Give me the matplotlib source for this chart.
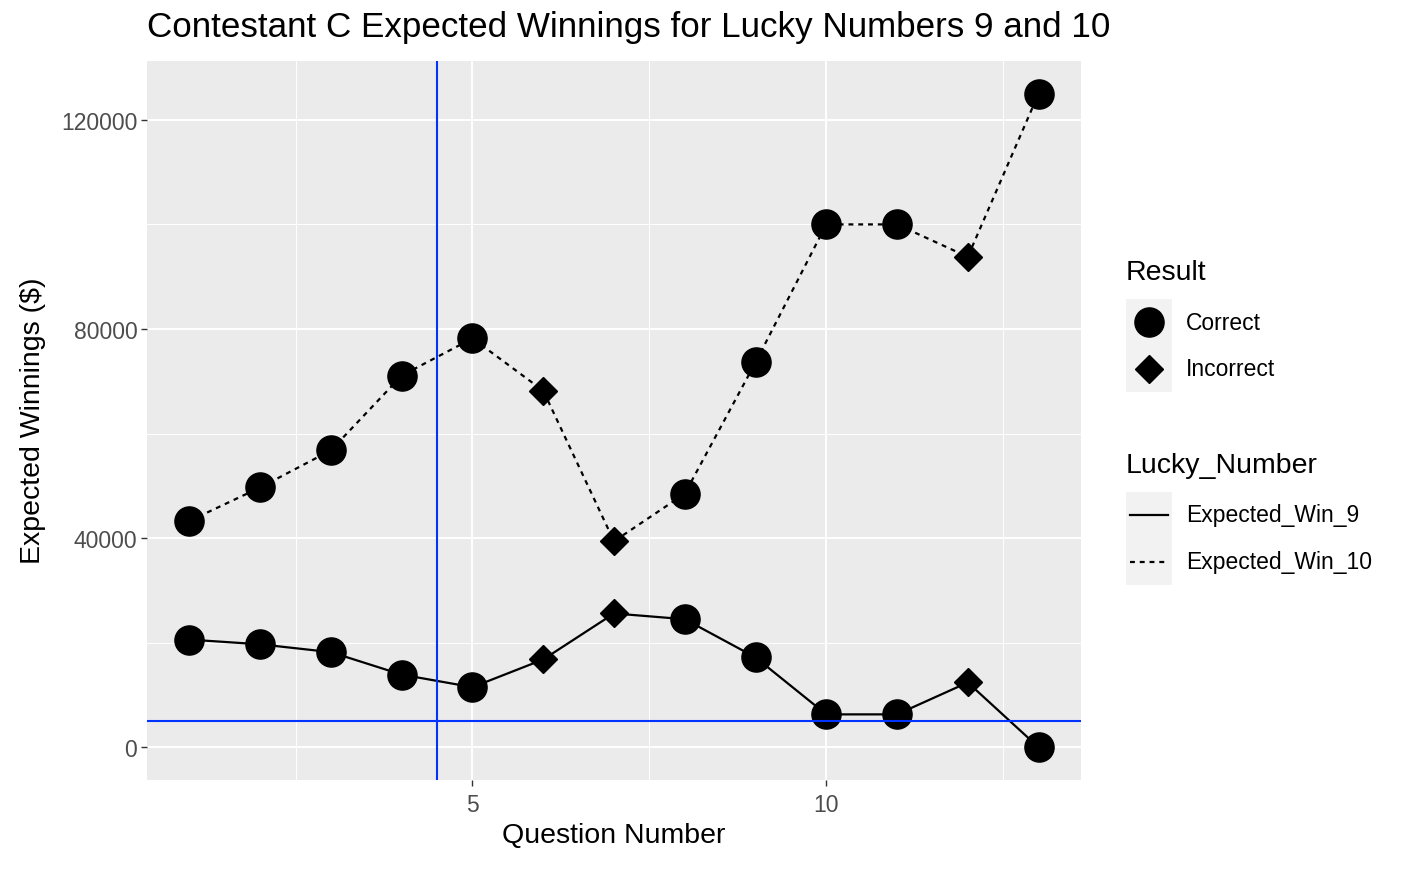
import matplotlib
matplotlib.use("Agg")
import matplotlib.pyplot as plt
from matplotlib.lines import Line2D
from matplotlib.patches import Rectangle

plt.rcParams['font.family'] = ['Liberation Sans', 'DejaVu Sans']

question = [1, 2, 3, 4, 5, 6, 7, 8, 9, 10, 11, 12, 13]
win_9 = [20600, 19700, 18200, 13900, 11500, 16800, 25600, 24500, 17200, 6300, 6300, 12400, 0]
win_10 = [43300, 49700, 56800, 71100, 78200, 68200, 39400, 48500, 73600, 100000, 100000, 93800, 125000]
result = ['Correct', 'Correct', 'Correct', 'Correct', 'Correct', 'Incorrect', 'Incorrect',
          'Correct', 'Correct', 'Correct', 'Correct', 'Incorrect', 'Correct']
result_levels = ['Correct', 'Incorrect']
series_names = ['Expected_Win_9', 'Expected_Win_10']
vline_x = 4.5
hline_y = 5000

W, H = 1422, 878
fig = plt.figure(figsize=(W / 100, H / 100), dpi=100)

def fx(x):
    return x / W

def fy(y):
    return 1 - y / H

ax = fig.add_axes([fx(147), fy(781), fx(1081) - fx(147), fy(62) - fy(781)])
ax.set_facecolor('#EBEBEB')
for s in ax.spines.values():
    s.set_visible(False)

ax.set_xlim(0.4, 13.6)
ax.set_ylim(-6250, 131250)
ax.set_xticks([5, 10])
ax.set_xticks([2.5, 7.5, 12.5], minor=True)
ax.set_yticks([0, 40000, 80000, 120000])
ax.set_yticks([20000, 60000, 100000], minor=True)
ax.grid(which='major', color='white', linewidth=1.4)
ax.grid(which='minor', color='white', linewidth=0.7)
ax.set_axisbelow(True)
ax.tick_params(which='major', length=4, width=1, color='#333333', labelcolor='#4D4D4D',
               labelsize=16.5)
ax.tick_params(axis='x', which='major', pad=5)
ax.tick_params(axis='y', which='major', pad=3)
ax.tick_params(which='minor', length=0)

line_styles = {'Expected_Win_9': '-', 'Expected_Win_10': (0, (2.2, 2.2))}
marker_map = {'Correct': ('o', 21), 'Incorrect': ('D', 14)}

for name, vals in zip(series_names, [win_9, win_10]):
    ax.plot(question, vals, color='black', linewidth=1.6, linestyle=line_styles[name], zorder=3)
    for lvl in result_levels:
        xs = [q for q, r in zip(question, result) if r == lvl]
        ys = [v for v, r in zip(vals, result) if r == lvl]
        m, ms = marker_map[lvl]
        ax.plot(xs, ys, linestyle='none', marker=m, markersize=ms, color='black', zorder=4)

ax.axvline(vline_x, color='#0033FF', linewidth=1.5, zorder=5)
ax.axhline(hline_y, color='#0033FF', linewidth=1.5, zorder=5)

fig.text(fx(614), fy(836), 'Question Number', fontsize=20.5, ha='center', va='center')
fig.text(fx(33), fy(421), 'Expected Winnings ($)', fontsize=20.5, ha='center', va='center',
         rotation=90)
fig.text(fx(147), fy(28), 'Contestant C Expected Winnings for Lucky Numbers 9 and 10',
         fontsize=25.2, ha='left', va='center')

# Legend: Result
fig.text(fx(1126), fy(273), 'Result', fontsize=20.5, ha='left', va='center')
fig.patches.append(Rectangle((fx(1126), fy(393)), fx(46), fy(300) - fy(393),
                             transform=fig.transFigure, facecolor='#F2F2F2', edgecolor='none'))
for i, lvl in enumerate(result_levels):
    cy = 323 + i * 47
    m, ms = marker_map[lvl]
    fig.lines.append(Line2D([fx(1149)], [fy(cy)], marker=m, markersize=ms, color='black',
                            linestyle='none', transform=fig.transFigure))
    fig.text(fx(1186), fy(cy), lvl, fontsize=16.5, ha='left', va='center')

# Legend: Lucky_Number
fig.text(fx(1126), fy(466), 'Lucky_Number', fontsize=20.5, ha='left', va='center')
fig.patches.append(Rectangle((fx(1126), fy(586)), fx(46), fy(493) - fy(586),
                             transform=fig.transFigure, facecolor='#F2F2F2', edgecolor='none'))
for i, name in enumerate(series_names):
    cy = 516 + i * 47
    fig.lines.append(Line2D([fx(1130), fx(1168)], [fy(cy), fy(cy)], color='black', linewidth=1.6,
                            linestyle=line_styles[name], transform=fig.transFigure))
    fig.text(fx(1186), fy(cy), name, fontsize=16.5, ha='left', va='center')

fig.savefig('out.png', dpi=100)
